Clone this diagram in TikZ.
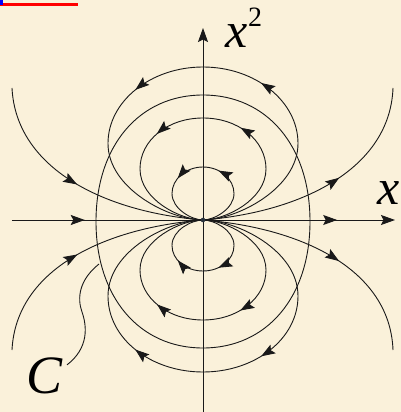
\documentclass[tikz,border=0pt]{standalone}
\usepackage{fontspec}
\setmainfont{Liberation Serif}
\usetikzlibrary{arrows.meta, decorations.markings}

\definecolor{paper}{RGB}{250,241,218}
\definecolor{dotcol}{RGB}{40,50,60}

\tikzset{
  fieldline/.style={line width=0.9pt, draw=black!90},
  onehead/.style={postaction={decorate}, decoration={markings, mark=at position #1 with {\arrow{>}}}},
  twoheads/.style 2 args={postaction={decorate}, decoration={markings, mark=at position #1 with {\arrow{>}}, mark=at position #2 with {\arrow{>}}}},
  biglabel/.style={inner sep=0pt, outer sep=0pt, font=\fontsize{50}{50}\selectfont\itshape},
}

\begin{document}
\begin{tikzpicture}[x=1pt,y=1pt,>={Stealth[length=14pt,width=10pt,inset=2.5pt]}]
\fill[paper] (-203,-192) rectangle (198,220);
\useasboundingbox (-203,-192) rectangle (198,220);
\fill[red] (-203,214) rectangle (-125,216.5);
\fill[blue] (-203,215) rectangle (-200,220);
\coordinate (O) at (0,0);
% axes
\draw[fieldline, ->, twoheads={0.19}{0.849}] (-191,0) -- (192,0);
\draw[fieldline, ->] (0,-192) -- (0,192);
% upper loops
\draw[fieldline, twoheads={0.41}{0.66}] (O) .. controls (11,0) and (31,11) .. (31,26.5) .. controls (31,41) and (17,53) .. (0,53) .. controls (-17,53) and (-31,41) .. (-31,26.5) .. controls (-31,11) and (-11,0) .. (O);
\draw[fieldline, twoheads={0.39}{0.64}] (O) .. controls (22,0) and (63,20) .. (63,51) .. controls (63,80) and (35,102) .. (0,102) .. controls (-35,102) and (-63,80) .. (-63,51) .. controls (-63,20) and (-22,0) .. (O);
\draw[fieldline, twoheads={0.386}{0.636}] (O) .. controls (33,0) and (95,31) .. (95,76.5) .. controls (95,119) and (52,153) .. (0,153) .. controls (-52,153) and (-95,119) .. (-95,76.5) .. controls (-95,31) and (-33,0) .. (O);
% lower loops
\draw[fieldline, twoheads={0.41}{0.66}] (O) .. controls (11,0) and (31,-10) .. (31,-25.5) .. controls (31,-40) and (17,-51) .. (0,-51) .. controls (-17,-51) and (-31,-40) .. (-31,-25.5) .. controls (-31,-10) and (-11,0) .. (O);
\draw[fieldline, twoheads={0.39}{0.64}] (O) .. controls (22,0) and (63,-20) .. (63,-50) .. controls (63,-78) and (35,-100) .. (0,-100) .. controls (-35,-100) and (-63,-78) .. (-63,-50) .. controls (-63,-20) and (-22,0) .. (O);
\draw[fieldline, twoheads={0.386}{0.636}] (O) .. controls (33,0) and (95,-30) .. (95,-76) .. controls (95,-119) and (52,-152) .. (0,-152) .. controls (-52,-152) and (-95,-119) .. (-95,-76) .. controls (-95,-30) and (-33,0) .. (O);
% corner lines
\draw[fieldline, onehead=0.48] (-191,132) .. controls (-187,52) and (-100,8) .. (O);
\draw[fieldline, onehead=0.57] (O) .. controls (100,8) and (187,52) .. (190,132);
\draw[fieldline, onehead=0.48] (-191,-130) .. controls (-187,-50) and (-100,-8) .. (O);
\draw[fieldline, onehead=0.57] (O) .. controls (100,-8) and (187,-50) .. (190,-130);
% curve C
\draw[fieldline] (107,-1.5) .. controls (107,74) and (64,125) .. (0,125) .. controls (-64,125) and (-107,74) .. (-107,-1.5) .. controls (-107,-77) and (-64,-128) .. (0,-128) .. controls (64,-128) and (107,-77) .. cycle;
\fill[dotcol] (O) circle (2.3);
% labels
\node[biglabel, anchor=base west] (xtwo) at (22,172) {x\kern1pt\raisebox{21pt}{\upshape\fontsize{28}{28}\selectfont 2}};
\node[biglabel, anchor=base west] (xone) at (174,15) {x\kern1pt\raisebox{22pt}{\upshape\fontsize{28}{28}\selectfont 1}};
\node[biglabel, font=\fontsize{54}{54}\selectfont\itshape] (Clabel) at (-158,-156) {C};
\coordinate (Cfoot) at (-104,-44);
\draw[fieldline] (Cfoot) .. controls (-124,-60) and (-126,-78) .. (-121,-92) .. controls (-116,-106) and (-114,-128) .. ([shift={(4,-7)}]Clabel.north east);
\end{tikzpicture}
\end{document}
